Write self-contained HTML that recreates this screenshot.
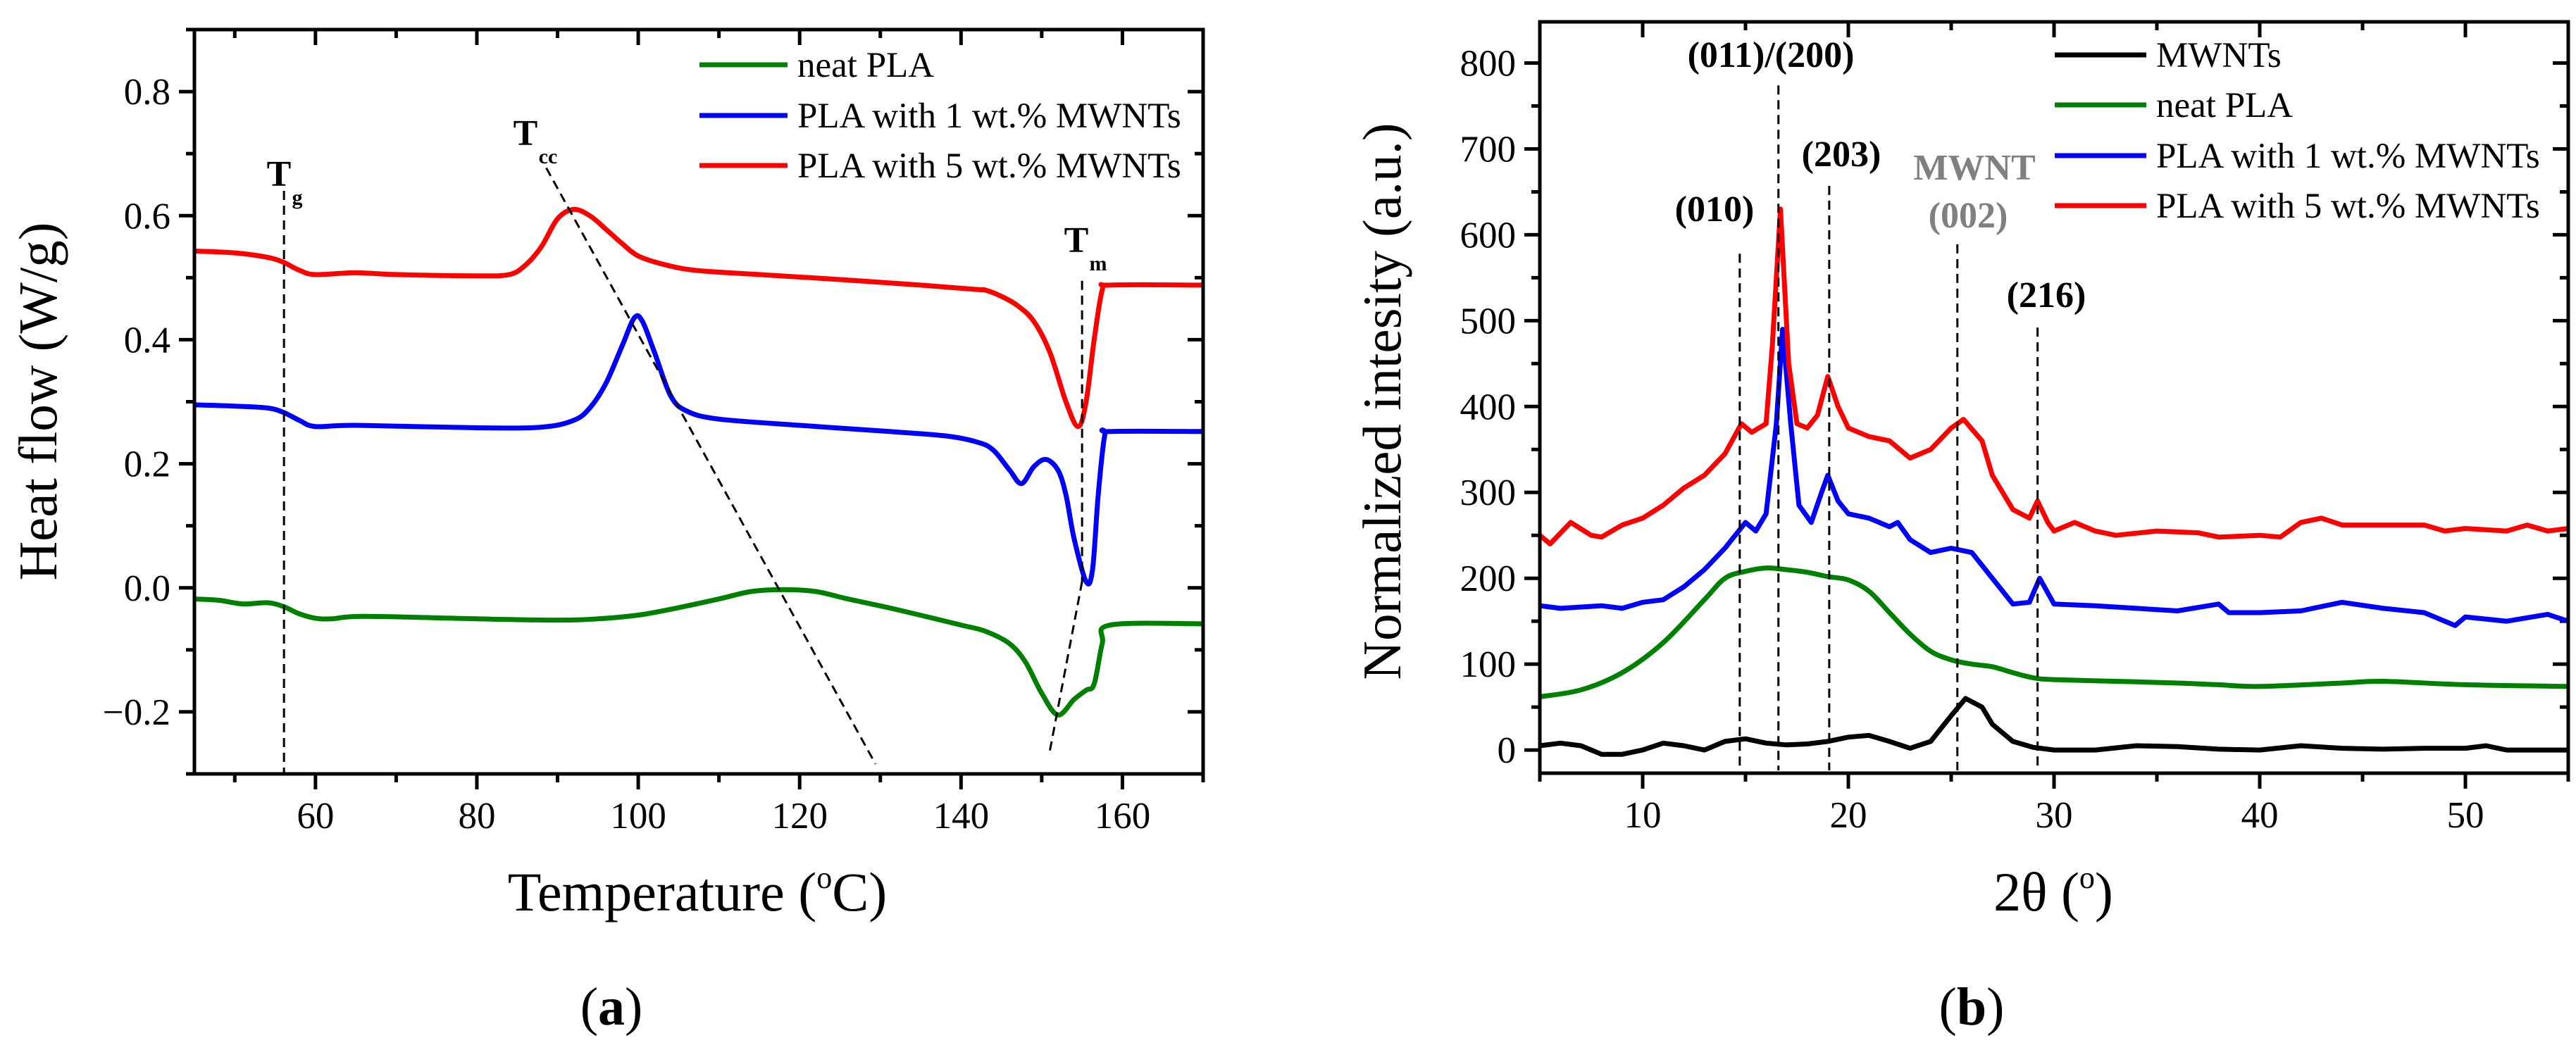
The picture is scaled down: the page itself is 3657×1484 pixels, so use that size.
<!DOCTYPE html>
<html><head><meta charset="utf-8"><style>
html,body{margin:0;padding:0;background:#fff}
svg{display:block}
text{font-family:"Liberation Serif",serif;fill:#000}
</style></head><body>
<svg id="fig" width="3657" height="1484" viewBox="0 0 3657 1484" xmlns="http://www.w3.org/2000/svg"></svg>
<script>
// ---------- Panel (a) DSC data ----------
const aX_red=[45,50,54,56,58,60,65,70,80,84,86,88,90,92,94,96,98,100,103,107,115,125,135,142,143,145,147,149,151,153,154.5,155.5,156.5,157.5,158.5,170];
const aY_red=[0.543,0.540,0.533,0.525,0.512,0.505,0.508,0.505,0.503,0.505,0.520,0.550,0.595,0.610,0.600,0.578,0.555,0.535,0.522,0.512,0.505,0.497,0.488,0.481,0.480,0.470,0.455,0.430,0.380,0.300,0.260,0.300,0.400,0.480,0.488,0.488];
const aX_blue=[45,50,54,56,58,60,65,80,88,92,94,96,98,99.5,100.5,102,104,106,110,120,130,138,142,144,146,147.5,149,150.5,152,153,154,155.5,156.3,157,157.8,158.5,170];
const aY_blue=[0.295,0.293,0.290,0.283,0.270,0.260,0.262,0.258,0.259,0.270,0.290,0.330,0.390,0.435,0.430,0.380,0.310,0.285,0.272,0.262,0.253,0.245,0.235,0.222,0.190,0.168,0.195,0.207,0.190,0.150,0.080,0.010,0.030,0.150,0.245,0.252,0.252];
const aX_green=[45,48,51,54,56,58,60,62,66,80,90,95,100,105,110,114,118,122,126,132,140,143,146,148,150,152,154,155.5,156.5,157.5,158.5,170];
const aY_green=[-0.018,-0.020,-0.026,-0.024,-0.030,-0.042,-0.049,-0.050,-0.046,-0.050,-0.052,-0.050,-0.044,-0.032,-0.018,-0.006,-0.003,-0.006,-0.018,-0.035,-0.060,-0.070,-0.090,-0.120,-0.170,-0.205,-0.180,-0.165,-0.155,-0.090,-0.060,-0.058];
const aXTicks=[60,80,100,120,140,160];
const aXTickLabels=["60","80","100","120","140","160"];
const aYTicks=[-0.2,0,0.2,0.4,0.6,0.8];
const aYTickLabels=["\u22120.2","0.0","0.2","0.4","0.6","0.8"];
const aLegend=["neat PLA","PLA with 1 wt.% MWNTs","PLA with 5 wt.% MWNTs"];

// ---------- Panel (b) XRD data ----------
const bX_black=[5,6,7,8,9,10,11,12,13,14,15,16,17,18,19,20,21,22,23,24,25,25.7,26.5,27,28,29,30,32,34,36,38,40,42,44,46,48,50,51,52,55];
const bY_black=[5,8,5,-5,-5,0,8,5,0,10,13,8,6,7,10,15,17,10,2,10,40,60,50,30,10,3,0,0,5,4,1,0,5,2,1,2,2,5,0,0];
const bX_green=[5,7,9,11,13,14,15,16,17,18,19,20,21,22,23,24,25,26,27,28,29,30,33,36,38,40,44,46,50,55];
const bY_green=[62,70,90,125,175,200,208,212,210,207,202,198,185,160,135,115,105,100,97,90,84,82,80,78,76,74,78,80,76,74];
const bX_blue=[5,6,8,9,10,11,12,13,14,15,15.5,16,16.5,16.8,17.2,17.6,18.2,18.7,19,19.5,20,21,22,22.4,23,24,25,26,27,28,28.8,29.3,30,32,34,36,38,38.5,40,42,44,46,48,49.5,50,52,54,55];
const bY_blue=[168,165,168,165,172,175,190,210,235,265,255,275,380,490,380,285,265,300,320,290,275,270,260,265,245,230,235,230,200,170,172,200,170,168,165,162,170,160,160,162,172,165,160,145,155,150,158,150];
const bX_red=[5,5.5,6.5,7.5,8,9,10,11,12,13,14,14.8,15.3,16,16.3,16.7,17.1,17.5,18,18.5,19,19.5,20,21,22,23,24,25,25.6,26.5,27,28,28.8,29.2,29.7,30,31,32,33,35,37,38,40,41,42,43,44,46,48,49,50,52,53,54,55];
const bY_red=[250,240,265,250,248,262,270,285,305,320,345,380,370,380,470,630,450,380,375,390,435,400,375,365,360,340,350,375,385,360,320,280,270,290,265,255,265,255,250,255,253,248,250,248,265,270,262,262,262,255,258,255,262,255,258];
const bXTicks=[10,20,30,40,50];
const bXTickLabels=["10","20","30","40","50"];
const bYTicks=[0,100,200,300,400,500,600,700,800];
const bYTickLabels=["0","100","200","300","400","500","600","700","800"];
const bLegend=["MWNTs","neat PLA","PLA with 1 wt.% MWNTs","PLA with 5 wt.% MWNTs"];
const bPeakX=[14.72,16.6,19.07,25.3,29.2];
const bPeakTop=[578,774,657,589,492];

const NS="http://www.w3.org/2000/svg";
const svg=document.getElementById('fig');
function mk(tag,attrs,parent){const e=document.createElementNS(NS,tag);for(const k in attrs)e.setAttribute(k,attrs[k]);(parent||svg).appendChild(e);return e;}
function txt(s,x,y,size,anchor,parent,extra){const t=mk('text',Object.assign({x:x,y:y,'font-size':size,'text-anchor':anchor||'middle'},extra||{}),parent);t.textContent=s;return t;}

function panel(o){
  const g=mk('g',{});
  
  
  const sx=v=>o.L+(v-o.x0)/(o.x1-o.x0)*(o.R-o.L);
  const sy=v=>o.B-(v-o.y0)/(o.y1-o.y0)*(o.B-o.T);
  o.sx=sx;o.sy=sy;
  const tk=mk('g',{stroke:'#000','stroke-width':5},g);
  
  
  for(let v=o.xm0;v<=o.x1+1e-9;v+=o.xmStep){
    const major=o.xTicks.some(t=>Math.abs(t-v)<1e-6);const len=major?22:12;const x=sx(v);
    mk('line',{x1:x,y1:o.B,x2:x,y2:o.B+len},tk);
    mk('line',{x1:x,y1:o.T,x2:x,y2:o.T+len},tk);
  }
  for(let v=o.ym0;v<=o.y1+1e-9;v+=o.ymStep){
    const major=o.yTicks.some(t=>Math.abs(t-v)<1e-6);const len=major?22:12;const y=sy(v);
    mk('line',{x1:o.L-len,y1:y,x2:o.L,y2:y},tk);
    mk('line',{x1:o.R-len,y1:y,x2:o.R,y2:y},tk);
  }
  o.xTicks.forEach((v,i)=>{const t=txt(o.xLabels[i],sx(v),o.B+77,53,'middle',g);
    });
  o.yTicks.forEach((v,i)=>{const t=txt(o.yLabels[i],o.L-34,sy(v)+18,53,'end',g);
    });
  return g;
}
function series(o,g,xs,ys,color,name,smooth){
  const P=xs.map((x,i)=>[o.sx(x),o.sy(ys[i])]);
  let d='M'+P[0][0].toFixed(1)+' '+P[0][1].toFixed(1);
  for(let i=0;i<P.length-1;i++){
    if(!smooth){d+=' L'+P[i+1][0].toFixed(1)+' '+P[i+1][1].toFixed(1);continue;}
    const p0=P[Math.max(0,i-1)],p1=P[i],p2=P[i+1],p3=P[Math.min(P.length-1,i+2)];
    const c1=[p1[0]+(p2[0]-p0[0])/6,p1[1]+(p2[1]-p0[1])/6];
    const c2=[p2[0]-(p3[0]-p1[0])/6,p2[1]-(p3[1]-p1[1])/6];
    d+=' C'+c1[0].toFixed(1)+' '+c1[1].toFixed(1)+' '+c2[0].toFixed(1)+' '+c2[1].toFixed(1)+' '+p2[0].toFixed(1)+' '+p2[1].toFixed(1);
  }
  const p=mk('path',{d:d,fill:'none',stroke:color,'stroke-width':7,'stroke-linejoin':'round'},g);
  
  
}
function dashed(g,x1,y1,x2,y2,name){
  const l=mk('line',{x1:x1,y1:y1,x2:x2,y2:y2,stroke:'#000','stroke-width':3,'stroke-dasharray':'13 8'},g);
  
  
}
function frame(o,g){
  const r=mk('rect',{x:o.L,y:o.T,width:o.R-o.L,height:o.B-o.T,fill:'none',stroke:'#000','stroke-width':5},g);
  
  
}
function legend(g,labels,colors,lx1,lx2,tx,ys){
  labels.forEach((s,i)=>{
    const e=mk('g',{},g);
    
    
    mk('line',{x1:lx1,y1:ys[i],x2:lx2,y2:ys[i],stroke:colors[i],'stroke-width':7},e);
    txt(s,tx,ys[i]+17,51,'start',e);
  });
}

// ----- Panel a -----
const A={name:'panel-a-dsc',L:276,R:1708,T:42,B:1099,x0:45,x1:170,y0:-0.3,y1:0.9,
  xTicks:aXTicks,xLabels:aXTickLabels,yTicks:aYTicks,yLabels:aYTickLabels,xm0:50,xmStep:10,ym0:-0.3,ymStep:0.1};
const ga=panel(A);
series(A,ga,aX_green,aY_green,'#008000','neat-pla-curve',true);
series(A,ga,aX_blue,aY_blue,'#0000ff','pla-1wt-curve',true);
series(A,ga,aX_red,aY_red,'#ff0000','pla-5wt-curve',true);
dashed(ga,A.sx(56.1),A.sy(0.64),A.sx(56.1),A.B,'tg-line');
dashed(ga,A.sx(88.6),A.sy(0.677),A.sx(129.4),A.sy(-0.284),'tcc-line');
dashed(ga,A.sx(155),A.sy(0.495),A.sx(155),A.sy(0.01),'tm-line');
dashed(ga,A.sx(155),A.sy(0.01),A.sx(150.9),A.sy(-0.27),'tm-line-lower');
frame(A,ga);
legend(ga,aLegend,['#008000','#0000ff','#ff0000'],993,1118,1132,[92,164,235]);
let t;
t=txt('T',396,264,52,'middle',ga,{'font-weight':'bold'});
txt('g',422,290,30,'middle',ga,{'font-weight':'bold'});
t=txt('T',746,206,52,'middle',ga,{'font-weight':'bold'});
txt('cc',778,232,30,'middle',ga,{'font-weight':'bold'});
t=txt('T',1528,358,52,'middle',ga,{'font-weight':'bold'});
txt('m',1559,384,30,'middle',ga,{'font-weight':'bold'});
t=txt('',990,1293,78,'middle',ga);
t.innerHTML='Temperature (<tspan dy="-32" font-size="44">o</tspan><tspan dy="32">C)</tspan>';
t=txt('Heat flow (W/g)',0,0,77,'middle',ga,{transform:'translate(80,570) rotate(-90)'});
t=txt('',868,1455,76,'middle',ga);
t.innerHTML='(<tspan font-weight="bold">a</tspan>)';

// ----- Panel b -----
const Bp={name:'panel-b-xrd',L:2186,R:3646,T:31,B:1098,x0:5,x1:55,y0:-27,y1:848,
  xTicks:bXTicks,xLabels:bXTickLabels,yTicks:bYTicks,yLabels:bYTickLabels,xm0:5,xmStep:5,ym0:0,ymStep:50};
const gb=panel(Bp);
series(Bp,gb,bX_black,bY_black,'#000000','mwnts-curve',false);
series(Bp,gb,bX_green,bY_green,'#008000','neat-pla-xrd-curve',true);
series(Bp,gb,bX_blue,bY_blue,'#0000ff','pla-1wt-xrd-curve',false);
series(Bp,gb,bX_red,bY_red,'#ff0000','pla-5wt-xrd-curve',false);
bPeakX.forEach((x,i)=>dashed(gb,Bp.sx(x),Bp.sy(bPeakTop[i]),Bp.sx(x),Bp.B-4,'peak-line'));
frame(Bp,gb);
legend(gb,bLegend,['#000000','#008000','#0000ff','#ff0000'],2917,3047,3061,[78,149,221,292]);
const peakLbl=[['(010)',2434,314,'#000'],['(011)/(200)',2514,95,'#000'],['(203)',2614,236,'#000'],['MWNT',2803,255,'#808080'],['(002)',2794,323,'#808080'],['(216)',2905,436,'#000']];
peakLbl.forEach(p=>{const e=txt(p[0],p[1],p[2],52,'middle',gb,{'font-weight':'bold',fill:p[3],style:'fill:'+p[3]});
  });
t=txt('',2915,1293,78,'middle',gb);
t.innerHTML='2θ (<tspan dy="-32" font-size="44">o</tspan><tspan dy="32">)</tspan>';
t=txt('Normalized intesity (a.u.)',0,0,77,'middle',gb,{transform:'translate(1988,570) rotate(-90)'});
t=txt('',2799,1455,76,'middle',gb);
t.innerHTML='(<tspan font-weight="bold">b</tspan>)';
</script>
</body></html>
